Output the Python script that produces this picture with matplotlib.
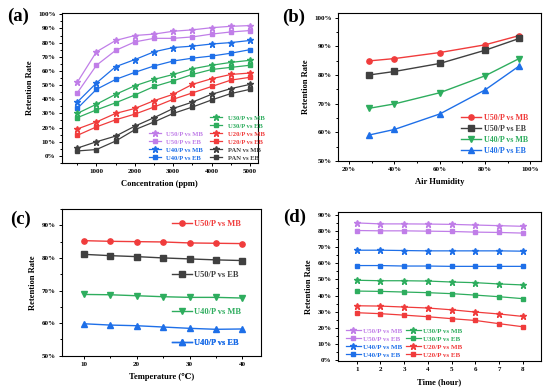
import numpy as np
import matplotlib
matplotlib.use("Agg")
import matplotlib.pyplot as plt
from matplotlib.ticker import MultipleLocator, FuncFormatter

plt.rcParams['font.family'] = ['Liberation Serif', 'DejaVu Serif']
plt.rcParams['font.weight'] = 'bold'
plt.rcParams['axes.labelweight'] = 'bold'

VIOLET = '#c07ee8'
BLUE = '#1e6fe8'
GREEN = '#2ead5e'
RED = '#f03c3c'
GRAY = '#404040'

# (a) concentration
conc = [500, 1000, 1500, 2000, 2500, 3000, 3500, 4000, 4500, 5000]
a_u50_mb = [52, 73.5, 81.5, 85, 86, 88, 89, 90.5, 91.5, 92]
a_u50_eb = [44.5, 64, 74.5, 80.5, 83, 83, 84, 86, 87.5, 88.5]
a_u40_mb = [38, 51.5, 63, 68, 73.5, 76.5, 77.5, 79, 80, 81.5]
a_u40_eb = [33.5, 47, 54, 59, 63.5, 67, 69, 70.5, 72.5, 75]
a_u30_mb = [30, 36.5, 43.5, 49.5, 54, 57.5, 61.5, 64, 66, 67.5]
a_u30_eb = [27, 32.5, 37.5, 43, 49, 53, 57.5, 61, 62.5, 64]
a_u20_mb = [19, 24, 30, 33.5, 39, 43.5, 50.5, 54.5, 57.5, 58.5]
a_u20_eb = [14.5, 20.5, 25.5, 29.5, 34.5, 40, 44.5, 49, 53.5, 55.5]
a_pan_mb = [5.5, 10, 14, 21, 27, 33.5, 38, 43.5, 47.5, 50.5]
a_pan_eb = [3.5, 4.5, 10.5, 18.5, 24, 30, 34.5, 39.5, 44, 47]

# (b) humidity
hum = [29, 40, 60, 80, 95]
b_u50_mb = [84.9, 85.7, 87.8, 90.5, 93.7]
b_u50_eb = [80.0, 81.2, 84.0, 88.6, 92.7]
b_u40_mb = [68.4, 69.9, 73.8, 79.7, 85.7]
b_u40_eb = [59.1, 61.0, 66.4, 74.8, 83.1]

# (c) temperature
temp = [10, 15, 20, 25, 30, 35, 40]
c_u50_mb = [85.3, 85.1, 85.0, 84.9, 84.6, 84.5, 84.4]
c_u50_eb = [81.1, 80.7, 80.4, 80.0, 79.7, 79.4, 79.2]
c_u40_mb = [68.8, 68.7, 68.4, 68.1, 67.9, 67.9, 67.7]
c_u40_eb = [59.8, 59.4, 59.2, 58.8, 58.4, 58.1, 58.2]

# (d) time
hours = [1, 2, 3, 4, 5, 6, 7, 8]
d_u50_mb = [85.0, 84.4, 84.4, 84.3, 84.1, 83.7, 83.3, 82.9]
d_u50_eb = [80.3, 80.1, 80.1, 79.9, 79.7, 79.3, 79.1, 78.7]
d_u40_mb = [68.1, 68.1, 67.9, 67.7, 67.7, 67.7, 67.7, 67.5]
d_u40_eb = [58.6, 58.6, 58.3, 58.3, 58.1, 58.1, 58.1, 58.1]
d_u30_mb = [49.5, 49.2, 49.2, 49.0, 48.4, 48.0, 47.2, 46.6]
d_u30_eb = [42.8, 42.6, 42.2, 41.8, 41.2, 40.3, 39.3, 38.1]
d_u20_mb = [33.7, 33.5, 32.9, 32.3, 31.2, 29.8, 28.6, 27.1]
d_u20_eb = [29.4, 28.8, 27.9, 26.9, 25.7, 24.6, 22.6, 20.7]

pct = FuncFormatter(lambda v, p: '%d%%' % round(v))
TS = 5.0
LS = 6.1


def style(ax, xlabel):
    ax.tick_params(which='both', direction='out', labelsize=TS, width=0.7, pad=2)
    ax.tick_params(which='major', length=2.5)
    ax.tick_params(which='minor', length=1.3)
    for s in ax.spines.values():
        s.set_linewidth(0.8)
    ax.yaxis.set_major_formatter(pct)
    ax.set_ylabel('Retention Rate', fontsize=LS, labelpad=3)
    ax.set_xlabel(xlabel, fontsize=LS, labelpad=4)


def colored_legend(ax, handles, labels, **kw):
    opts = dict(frameon=False, fontsize=5, handlelength=2.0, handletextpad=0.4,
                borderpad=0.1, borderaxespad=0.0, labelspacing=0.3)
    opts.update(kw)
    leg = ax.legend(handles, labels, **opts)
    for t, h in zip(leg.get_texts(), handles):
        t.set_color(h.get_color())
    return leg


fig = plt.figure(figsize=(5.53, 3.89), dpi=100)
kw = dict(lw=1.0, ms=3.8)

# ---- (a)
ax = fig.add_axes([0.112, 0.581, 0.354, 0.386])
series_a = [(a_u50_mb, VIOLET, '*', 'U50/P vs MB'), (a_u50_eb, VIOLET, 's', 'U50/P vs EB'),
            (a_u40_mb, BLUE, '*', 'U40/P vs MB'), (a_u40_eb, BLUE, 's', 'U40/P vs EB'),
            (a_u30_mb, GREEN, '*', 'U30/P vs MB'), (a_u30_eb, GREEN, 's', 'U30/P vs EB'),
            (a_u20_mb, RED, '*', 'U20/P vs MB'), (a_u20_eb, RED, 's', 'U20/P vs EB'),
            (a_pan_mb, GRAY, '*', 'PAN vs MB'), (a_pan_eb, GRAY, 's', 'PAN vs EB')]
lines_a = []
for ys, c, m, lab in series_a:
    l, = ax.plot(conc, ys, color=c, marker=m, ms=4.5 if m == '*' else 3.3, lw=0.9)
    lines_a.append(l)
ax.set_xlim(100, 5200)
ax.set_ylim(-5, 101)
ax.xaxis.set_major_locator(MultipleLocator(1000))
ax.xaxis.set_minor_locator(MultipleLocator(500))
ax.yaxis.set_major_locator(MultipleLocator(10))
ax.yaxis.set_minor_locator(MultipleLocator(5))
style(ax, 'Concentration (ppm)')
leg1 = colored_legend(ax, lines_a[:4], [s[3] for s in series_a[:4]], fontsize=4.8,
                      handlelength=1.8, handletextpad=0.8, labelspacing=0.35,
                      loc='lower left', bbox_to_anchor=(0.44, 0.012))
ax.add_artist(leg1)
colored_legend(ax, lines_a[4:], [s[3] for s in series_a[4:]], fontsize=4.8,
               handlelength=1.8, handletextpad=0.8, labelspacing=0.35,
               loc='lower left', bbox_to_anchor=(0.755, 0.012))
fig.text(0.012, 0.958, '(a)', fontsize=13.5, fontweight='bold', va='center')

# ---- (b)
ax = fig.add_axes([0.6107, 0.586, 0.367, 0.380])
series_b = [(b_u50_mb, RED, 'o', 'U50/P vs MB'), (b_u50_eb, GRAY, 's', 'U50/P vs EB'),
            (b_u40_mb, GREEN, 'v', 'U40/P vs MB'), (b_u40_eb, BLUE, '^', 'U40/P vs EB')]
lines_b = []
for ys, c, m, lab in series_b:
    l, = ax.plot(hum, ys, color=c, marker=m, **kw)
    lines_b.append(l)
ax.set_xlim(15, 104.5)
ax.set_ylim(50, 101.5)
ax.xaxis.set_major_locator(MultipleLocator(20))
ax.xaxis.set_minor_locator(MultipleLocator(10))
ax.xaxis.set_major_formatter(pct)
ax.yaxis.set_major_locator(MultipleLocator(10))
ax.yaxis.set_minor_locator(MultipleLocator(5))
style(ax, 'Air Humidity')
colored_legend(ax, lines_b, [s[3] for s in series_b], fontsize=5.8, handlelength=2.5,
               handletextpad=0.4, labelspacing=0.38,
               loc='lower right', bbox_to_anchor=(0.945, 0.035))
fig.text(0.51, 0.955, '(b)', fontsize=13.5, fontweight='bold', va='center')

# ---- (c)
ax = fig.add_axes([0.1116, 0.0856, 0.36, 0.377])
series_c = [(c_u50_mb, RED, 'o', 'U50/P vs MB', 0.898), (c_u50_eb, GRAY, 's', 'U50/P vs EB', 0.550),
            (c_u40_mb, GREEN, 'v', 'U40/P vs MB', 0.298), (c_u40_eb, BLUE, '^', 'U40/P vs EB', 0.087)]
for ys, c, m, lab, yy in series_c:
    l, = ax.plot(temp, ys, color=c, marker=m, **kw)
    leg = colored_legend(ax, [l], [lab], fontsize=6.0, handlelength=2.4, handletextpad=0.25,
                         loc='center left', bbox_to_anchor=(0.55, yy))
    ax.add_artist(leg)
ax.set_xlim(5.8, 43.5)
ax.set_ylim(50, 95)
ax.xaxis.set_major_locator(MultipleLocator(10))
ax.xaxis.set_minor_locator(MultipleLocator(5))
ax.yaxis.set_major_locator(MultipleLocator(10))
ax.yaxis.set_minor_locator(MultipleLocator(5))
style(ax, 'Temperature (℃)')
fig.text(0.018, 0.435, '(c)', fontsize=13.5, fontweight='bold', va='center')

# ---- (d)
ax = fig.add_axes([0.6107, 0.072, 0.367, 0.384])
series_d = [(d_u50_mb, VIOLET, '*', 'U50/P vs MB'), (d_u50_eb, VIOLET, 's', 'U50/P vs EB'),
            (d_u40_mb, BLUE, '*', 'U40/P vs MB'), (d_u40_eb, BLUE, 's', 'U40/P vs EB'),
            (d_u30_mb, GREEN, '*', 'U30/P vs MB'), (d_u30_eb, GREEN, 's', 'U30/P vs EB'),
            (d_u20_mb, RED, '*', 'U20/P vs MB'), (d_u20_eb, RED, 's', 'U20/P vs EB')]
lines_d = []
for ys, c, m, lab in series_d:
    l, = ax.plot(hours, ys, color=c, marker=m, ms=4.5 if m == '*' else 3.3, lw=0.9)
    lines_d.append(l)
ax.set_xlim(0.2, 8.75)
ax.set_ylim(-0.5, 92)
ax.xaxis.set_major_locator(MultipleLocator(1))
ax.yaxis.set_major_locator(MultipleLocator(10))
ax.yaxis.set_minor_locator(MultipleLocator(5))
style(ax, 'Time (hour)')
colored_legend(ax, lines_d, [s[3] for s in series_d], fontsize=5.0, ncol=2,
               handlelength=2.2, handletextpad=0.3, labelspacing=0.3, columnspacing=0.5,
               loc='lower left', bbox_to_anchor=(0.035, 0.018))
fig.text(0.512, 0.44, '(d)', fontsize=13.5, fontweight='bold', va='center')

fig.savefig('out.png', dpi=100)
